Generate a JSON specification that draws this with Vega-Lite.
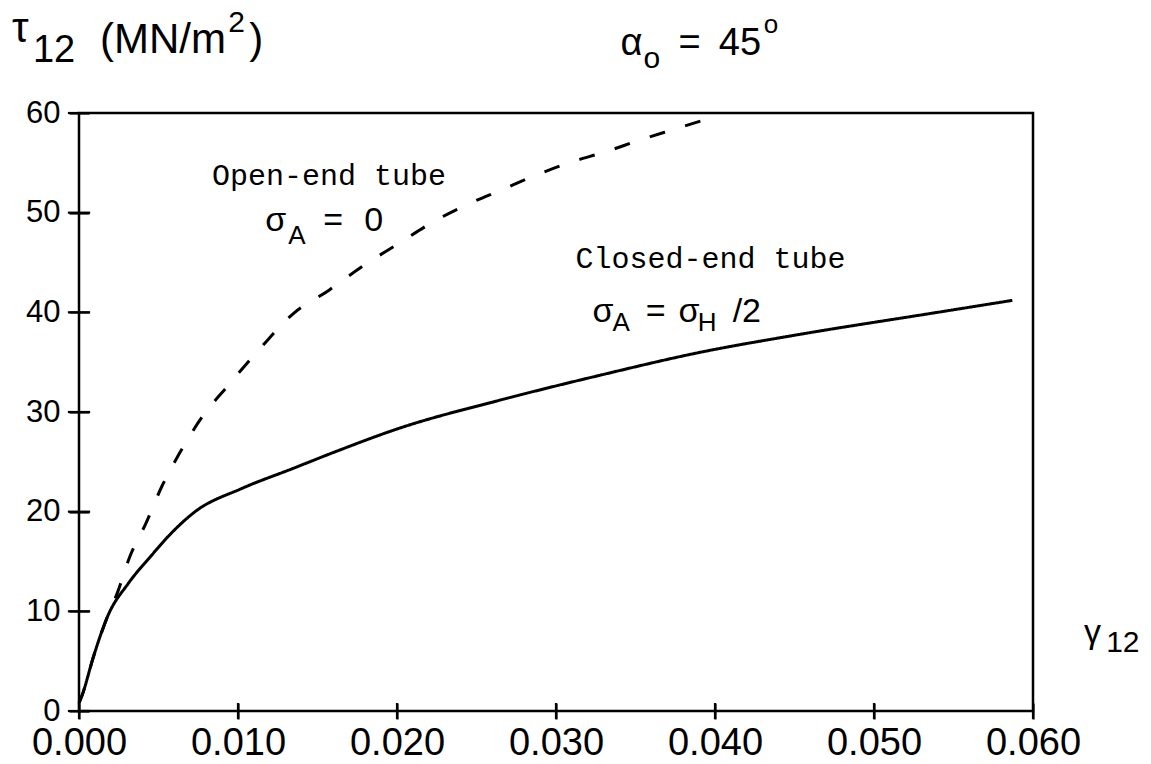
{
  "$schema": "https://vega.github.io/schema/vega-lite/v6.json",
  "width": 954,
  "height": 598,
  "autosize": "none",
  "padding": {"left": 79, "top": 113, "right": 118, "bottom": 53},
  "background": "white",
  "config": {
    "view": {"stroke": "black", "strokeWidth": 2.5},
    "axis": {"domain": false, "ticks": true, "tickColor": "black", "tickWidth": 2.2, "grid": false, "labelColor": "black", "labelFont": "Liberation Sans", "title": null, "labelFlush": false, "labelOverlap": false},
    "axisX": {"labelFontSize": 38, "offset": -8, "tickSize": 16, "labelPadding": 5},
    "axisY": {"labelFontSize": 31, "offset": -10, "tickSize": 20, "labelPadding": 9}
  },
  "datasets": {
    "curves": [
      {"series": "Closed-end tube", "gamma": 0.0, "tau": 0.8},
      {"series": "Closed-end tube", "gamma": 0.0002, "tau": 1.6},
      {"series": "Closed-end tube", "gamma": 0.0009, "tau": 5.4},
      {"series": "Closed-end tube", "gamma": 0.0018, "tau": 9.5},
      {"series": "Closed-end tube", "gamma": 0.0031, "tau": 12.8},
      {"series": "Closed-end tube", "gamma": 0.0045, "tau": 15.5},
      {"series": "Closed-end tube", "gamma": 0.0056, "tau": 17.5},
      {"series": "Closed-end tube", "gamma": 0.0073, "tau": 20.0},
      {"series": "Closed-end tube", "gamma": 0.0102, "tau": 22.3},
      {"series": "Closed-end tube", "gamma": 0.0134, "tau": 24.3},
      {"series": "Closed-end tube", "gamma": 0.0161, "tau": 26.0},
      {"series": "Closed-end tube", "gamma": 0.0202, "tau": 28.4},
      {"series": "Closed-end tube", "gamma": 0.0265, "tau": 31.2},
      {"series": "Closed-end tube", "gamma": 0.0328, "tau": 33.7},
      {"series": "Closed-end tube", "gamma": 0.0391, "tau": 36.0},
      {"series": "Closed-end tube", "gamma": 0.045, "tau": 37.7},
      {"series": "Closed-end tube", "gamma": 0.054, "tau": 40.0},
      {"series": "Closed-end tube", "gamma": 0.0587, "tau": 41.2},
      {"series": "Open-end tube", "gamma": 0.0, "tau": 0.8},
      {"series": "Open-end tube", "gamma": 0.0002, "tau": 1.6},
      {"series": "Open-end tube", "gamma": 0.0009, "tau": 5.4},
      {"series": "Open-end tube", "gamma": 0.0018, "tau": 9.5},
      {"series": "Open-end tube", "gamma": 0.0024, "tau": 11.8},
      {"series": "Open-end tube", "gamma": 0.0032, "tau": 15.5},
      {"series": "Open-end tube", "gamma": 0.0042, "tau": 18.8},
      {"series": "Open-end tube", "gamma": 0.0052, "tau": 22.5},
      {"series": "Open-end tube", "gamma": 0.0063, "tau": 25.8},
      {"series": "Open-end tube", "gamma": 0.0077, "tau": 29.4},
      {"series": "Open-end tube", "gamma": 0.0094, "tau": 32.7},
      {"series": "Open-end tube", "gamma": 0.0114, "tau": 36.4},
      {"series": "Open-end tube", "gamma": 0.0135, "tau": 39.9},
      {"series": "Open-end tube", "gamma": 0.0157, "tau": 42.2},
      {"series": "Open-end tube", "gamma": 0.0179, "tau": 44.7},
      {"series": "Open-end tube", "gamma": 0.0201, "tau": 46.9},
      {"series": "Open-end tube", "gamma": 0.0223, "tau": 49.1},
      {"series": "Open-end tube", "gamma": 0.0244, "tau": 50.8},
      {"series": "Open-end tube", "gamma": 0.0266, "tau": 52.3},
      {"series": "Open-end tube", "gamma": 0.0288, "tau": 53.8},
      {"series": "Open-end tube", "gamma": 0.031, "tau": 55.1},
      {"series": "Open-end tube", "gamma": 0.0331, "tau": 56.1},
      {"series": "Open-end tube", "gamma": 0.0353, "tau": 57.3},
      {"series": "Open-end tube", "gamma": 0.0375, "tau": 58.4},
      {"series": "Open-end tube", "gamma": 0.0393, "tau": 59.3}
    ],
    "tickmarks": [
      {"id": "y0", "g": -0.0007, "v": 0}, {"id": "y0", "g": 0.0007, "v": 0},
      {"id": "y10", "g": -0.0007, "v": 10}, {"id": "y10", "g": 0.0007, "v": 10},
      {"id": "y20", "g": -0.0007, "v": 20}, {"id": "y20", "g": 0.0007, "v": 20},
      {"id": "y30", "g": -0.0007, "v": 30}, {"id": "y30", "g": 0.0007, "v": 30},
      {"id": "y40", "g": -0.0007, "v": 40}, {"id": "y40", "g": 0.0007, "v": 40},
      {"id": "y50", "g": -0.0007, "v": 50}, {"id": "y50", "g": 0.0007, "v": 50},
      {"id": "y60", "g": -0.0007, "v": 60}, {"id": "y60", "g": 0.0, "v": 60},
      {"id": "x0", "g": 0.0, "v": -0.8}, {"id": "x0", "g": 0.0, "v": 0.8},
      {"id": "x1", "g": 0.01, "v": -0.8}, {"id": "x1", "g": 0.01, "v": 0.8},
      {"id": "x2", "g": 0.02, "v": -0.8}, {"id": "x2", "g": 0.02, "v": 0.8},
      {"id": "x3", "g": 0.03, "v": -0.8}, {"id": "x3", "g": 0.03, "v": 0.8},
      {"id": "x4", "g": 0.04, "v": -0.8}, {"id": "x4", "g": 0.04, "v": 0.8},
      {"id": "x5", "g": 0.05, "v": -0.8}, {"id": "x5", "g": 0.05, "v": 0.8},
      {"id": "x6", "g": 0.06, "v": -0.8}, {"id": "x6", "g": 0.06, "v": 0.0}
    ],
    "big": [
      {"t": "τ", "x": -0.00422, "y": 67.1},
      {"t": "(MN/m", "x": 0.00132, "y": 66.0},
      {"t": ")", "x": 0.0107, "y": 66.0}
    ],
    "mid": [
      {"t": "12", "x": -0.0029, "y": 65.1},
      {"t": "α", "x": 0.03406, "y": 65.8},
      {"t": "=", "x": 0.0377, "y": 65.8},
      {"t": "45", "x": 0.04024, "y": 65.8}
    ],
    "sup": [
      {"t": "2", "x": 0.00938, "y": 68.1},
      {"t": "o", "x": 0.03551, "y": 64.5},
      {"t": "12", "x": 0.0646, "y": 5.9}
    ],
    "sigma": [
      {"t": "σ", "x": 0.01171, "y": 48.2},
      {"t": "=", "x": 0.01536, "y": 48.2},
      {"t": "0", "x": 0.01794, "y": 48.2},
      {"t": "σ", "x": 0.0323, "y": 39.0},
      {"t": "=", "x": 0.03564, "y": 39.0},
      {"t": "σ", "x": 0.03771, "y": 39.0},
      {"t": "/2", "x": 0.04111, "y": 39.0},
      {"t": "γ", "x": 0.06321, "y": 6.8}
    ],
    "sub": [
      {"t": "A", "x": 0.01316, "y": 46.9},
      {"t": "A", "x": 0.03356, "y": 38.1},
      {"t": "H", "x": 0.03891, "y": 38.1},
      {"t": "o", "x": 0.04307, "y": 68.0}
    ],
    "mono": [
      {"t": "Open-end tube", "x": 0.00837, "y": 52.8},
      {"t": "Closed-end tube", "x": 0.03123, "y": 44.4}
    ]
  },
  "layer": [
    {
      "data": {"name": "curves"},
      "mark": {"type": "line", "color": "black", "strokeWidth": 3, "interpolate": "monotone"},
      "encoding": {
        "x": {"field": "gamma", "type": "quantitative", "scale": {"domain": [0, 0.06], "nice": false, "zero": false},
              "axis": {"values": [0, 0.01, 0.02, 0.03, 0.04, 0.05, 0.06], "format": ".3f"}},
        "y": {"field": "tau", "type": "quantitative", "scale": {"domain": [0, 60], "nice": false},
              "axis": {"values": [0, 10, 20, 30, 40, 50, 60], "format": "d"}},
        "detail": {"field": "series"},
        "strokeDash": {"field": "series", "type": "nominal", "scale": {"domain": ["Closed-end tube", "Open-end tube"], "range": [[1, 0], [16, 21]]}, "legend": null}
      }
    },
    {
      "data": {"name": "tickmarks"},
      "mark": {"type": "line", "color": "black", "strokeWidth": 2.2},
      "encoding": {
        "x": {"field": "g", "type": "quantitative"},
        "y": {"field": "v", "type": "quantitative"},
        "detail": {"field": "id"}
      }
    },
    {
      "data": {"name": "big"},
      "mark": {"type": "text", "font": "Liberation Sans", "fontSize": 42, "align": "left", "baseline": "alphabetic", "color": "black"},
      "encoding": {"x": {"field": "x", "type": "quantitative"}, "y": {"field": "y", "type": "quantitative"}, "text": {"field": "t"}}
    },
    {
      "data": {"name": "mid"},
      "mark": {"type": "text", "font": "Liberation Sans", "fontSize": 38, "align": "left", "baseline": "alphabetic", "color": "black"},
      "encoding": {"x": {"field": "x", "type": "quantitative"}, "y": {"field": "y", "type": "quantitative"}, "text": {"field": "t"}}
    },
    {
      "data": {"name": "sup"},
      "mark": {"type": "text", "font": "Liberation Sans", "fontSize": 30, "align": "left", "baseline": "alphabetic", "color": "black"},
      "encoding": {"x": {"field": "x", "type": "quantitative"}, "y": {"field": "y", "type": "quantitative"}, "text": {"field": "t"}}
    },
    {
      "data": {"name": "sigma"},
      "mark": {"type": "text", "font": "Liberation Sans", "fontSize": 34, "align": "left", "baseline": "alphabetic", "color": "black"},
      "encoding": {"x": {"field": "x", "type": "quantitative"}, "y": {"field": "y", "type": "quantitative"}, "text": {"field": "t"}}
    },
    {
      "data": {"name": "sub"},
      "mark": {"type": "text", "font": "Liberation Sans", "fontSize": 26, "align": "left", "baseline": "alphabetic", "color": "black"},
      "encoding": {"x": {"field": "x", "type": "quantitative"}, "y": {"field": "y", "type": "quantitative"}, "text": {"field": "t"}}
    },
    {
      "data": {"name": "mono"},
      "mark": {"type": "text", "font": "Liberation Mono", "fontSize": 30, "align": "left", "baseline": "alphabetic", "color": "black"},
      "encoding": {"x": {"field": "x", "type": "quantitative"}, "y": {"field": "y", "type": "quantitative"}, "text": {"field": "t"}}
    }
  ]
}
